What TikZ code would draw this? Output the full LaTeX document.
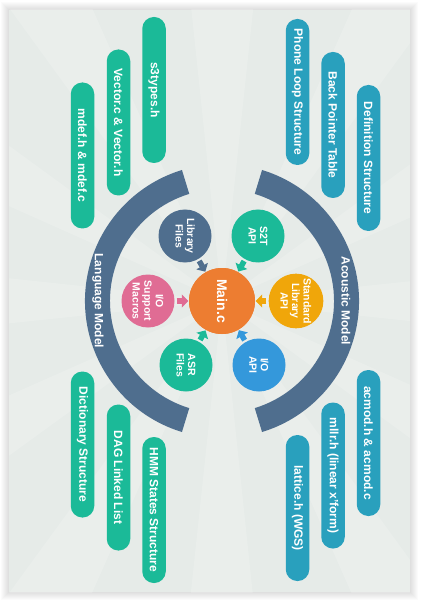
\documentclass[tikz,border=0pt]{standalone}
\usepackage{fontspec}
\setmainfont{Liberation Sans}
\usepackage{tikz}
\usetikzlibrary{arrows.meta}
\definecolor{panel}{RGB}{230,235,232}
\definecolor{slate}{RGB}{79,110,142}
\definecolor{greenpill}{RGB}{27,186,152}
\definecolor{bluepill}{RGB}{41,160,189}
\definecolor{mainorange}{RGB}{237,125,49}
\definecolor{macropink}{RGB}{224,108,148}
\definecolor{libgold}{RGB}{240,166,10}
\definecolor{apiblue}{RGB}{52,152,219}

\begin{document}
\begin{tikzpicture}[x=1pt, y=-1pt,
  pill/.style={rounded corners=11.5pt, minimum width=146pt, minimum height=23.5pt,
    inner sep=0pt, rotate=-90, text=white, font=\bfseries\fontsize{12}{14}\selectfont},
  ball/.style={circle, minimum size=53pt, inner sep=0pt, align=center, rotate=-90,
    text=white, font=\bfseries\fontsize{10.5}{11.5}\selectfont},
  feed/.style={line width=5.5pt, -{Triangle[width=13pt,length=6.5pt]},
    shorten <=2pt, shorten >=0.5pt},
  bandlabel/.style={rotate=-90, text=white, font=\bfseries\fontsize{12}{14}\selectfont}]
  \useasboundingbox (0,0) rectangle (423,601);
  \fill[white] (0,0) rectangle (423,601);
  % soft edge round the panel
  \foreach \i in {1,...,8}
    \fill[black, opacity=0.014] (9-\i,10-\i) rectangle (410+\i,592+\i);
  \fill[panel] (9,10) rectangle (410,592);

  \node[circle, fill=mainorange, minimum size=66pt, inner sep=0pt, rotate=-90,
    text=white, font=\bfseries\fontsize{14}{16}\selectfont] (main) at (222,301) {Main.c};

  % faint rays
  \begin{scope}
    \clip (9,10) rectangle (410,592);
    \foreach \a in {0,30,...,330}
      \fill[white, opacity=0.16] (main.center) -- ++(\a-6:420) -- ++(\a+96:88) -- cycle;
  \end{scope}

  % the two model arcs
  \begin{scope}[shift={(main.center)}]
    \fill[slate] (107:137) arc[start angle=107, end angle=253, radius=137]
      -- (253:112) arc[start angle=253, end angle=107, radius=112] -- cycle;
    \fill[slate] (-73:137) arc[start angle=-73, end angle=73, radius=137]
      -- (73:112) arc[start angle=73, end angle=-73, radius=112] -- cycle;
  \end{scope}
  \node[bandlabel] (langmodel) at (98,301) {Language Model};
  \node[bandlabel] (acmodel) at (346,301) {Acoustic Model};

  \node[ball, fill=slate] (lib) at (185,236) {Library\\Files};
  \node[ball, fill=greenpill] (s2t) at (258,236) {S2T\\API};
  \node[ball, fill=macropink] (iomac) at (148,301) {I/O\\Support\\Macros};
  \node[ball, fill=libgold] (stdlib) at (296,301) {Standard\\Library\\API};
  \node[ball, fill=greenpill] (asr) at (186,365) {ASR\\Files};
  \node[ball, fill=apiblue] (ioapi) at (259,365) {I/O\\API};
  \node[circle, fill=mainorange, minimum size=66pt, inner sep=0pt, rotate=-90,
    text=white, font=\bfseries\fontsize{14}{16}\selectfont] at (main) {Main.c};

  \draw[feed, slate] (lib) -- (main);
  \draw[feed, greenpill] (s2t) -- (main);
  \draw[feed, macropink] (iomac) -- (main);
  \draw[feed, libgold] (stdlib) -- (main);
  \draw[feed, greenpill] (asr) -- (main);
  \draw[feed, apiblue] (ioapi) -- (main);

  % language model files
  \node[pill, fill=greenpill] (s3types) at (154,90) {s3types.h};
  \node[pill, fill=greenpill] (vector) at (118.5,122.5) {Vector.c \& Vector.h};
  \node[pill, fill=greenpill] (mdef) at (82.5,155.5) {mdef.h \& mdef.c};
  \node[pill, fill=greenpill] (dict) at (82.5,444.5) {Dictionary Structure};
  \node[pill, fill=greenpill] (dag) at (118.5,477.5) {DAG Linked List};
  \node[pill, fill=greenpill] (hmm) at (154,510) {HMM States Structure};

  % acoustic model files
  \node[pill, fill=bluepill] (phoneloop) at (297.5,92) {Phone Loop Structure};
  \node[pill, fill=bluepill] (backptr) at (333,125) {Back Pointer Table};
  \node[pill, fill=bluepill] (defn) at (368.5,158) {Definition Structure};
  \node[pill, fill=bluepill] (acmod) at (368.5,443) {acmod.h \& acmod.c};
  \node[pill, fill=bluepill] (mllr) at (333,475.5) {mllr.h (linear x'form)};
  \node[pill, fill=bluepill] (lattice) at (297.5,508) {lattice.h (WGS)};
\end{tikzpicture}
\end{document}
